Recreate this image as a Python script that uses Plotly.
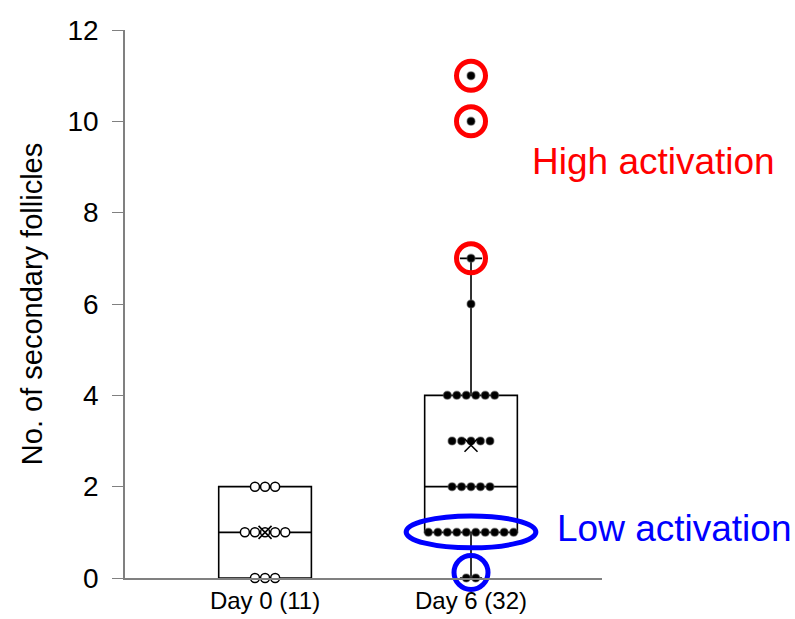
import numpy as np
import plotly.graph_objects as go
from collections import Counter

# ---- data ----
categories = ["Day 0 (11)", "Day 6 (32)"]
day0_values = [0, 0, 0, 1, 1, 1, 1, 1, 2, 2, 2]
day6_values = [0, 0,
               1, 1, 1, 1, 1, 1, 1, 1, 1, 1,
               2, 2, 2, 2, 2,
               3, 3, 3, 3, 3,
               4, 4, 4, 4, 4, 4,
               6, 7, 10, 11]
high_activation_values = [7, 10, 11]
low_activation_zero = [0]
low_activation_row = 1
y_ticks = [0, 2, 4, 6, 8, 10, 12]

positions = [0, 1]
XR = [-0.68, 1.636]


def swarm_x(center, values, step):
    cnt = Counter(values)
    seen = {}
    xs = []
    for v in values:
        k = cnt[v]
        i = seen.get(v, 0)
        seen[v] = i + 1
        xs.append(center + (i - (k - 1) / 2) * step)
    return xs


fig = go.Figure()
groups = [day0_values, day6_values]
for pos, vals in zip(positions, groups):
    fig.add_trace(go.Box(
        x=[pos] * len(vals), y=vals, width=0.45,
        boxpoints="outliers", marker=dict(opacity=0, size=1),
        line=dict(color="black", width=1.6), fillcolor="white",
        whiskerwidth=0.24, quartilemethod="exclusive",
        hoverinfo="skip", showlegend=False))

# day 0 points: hollow circles
fig.add_trace(go.Scatter(
    x=swarm_x(positions[0], day0_values, 0.049), y=day0_values, mode="markers",
    marker=dict(symbol="circle", size=9, color="white",
                line=dict(color="black", width=1.5)),
    showlegend=False, hoverinfo="skip", cliponaxis=False))

# day 6 points: filled black dots with soft edge
fig.add_trace(go.Scatter(
    x=swarm_x(positions[1], day6_values, 0.046), y=day6_values, mode="markers",
    marker=dict(symbol="circle", size=8, color="black",
                line=dict(color="rgba(90,90,90,0.45)", width=1.5)),
    showlegend=False, hoverinfo="skip", cliponaxis=False))

# means
fig.add_trace(go.Scatter(
    x=positions, y=[float(np.mean(g)) for g in groups], mode="markers",
    marker=dict(symbol="x-thin", size=13, color="black",
                line=dict(color="black", width=1.6)),
    showlegend=False, hoverinfo="skip", cliponaxis=False))

# red circles (high activation)
fig.add_trace(go.Scatter(
    x=[positions[1]] * len(high_activation_values), y=high_activation_values,
    mode="markers",
    marker=dict(symbol="circle-open", size=29, color="#ff0000",
                line=dict(color="#ff0000", width=5)),
    showlegend=False, hoverinfo="skip", cliponaxis=False))

# blue circle round the zero points
fig.add_trace(go.Scatter(
    x=[positions[1]] * len(low_activation_zero), y=[v + 0.12 for v in low_activation_zero],
    mode="markers",
    marker=dict(symbol="circle-open", size=34, color="#0000ff",
                line=dict(color="#0000ff", width=5)),
    showlegend=False, hoverinfo="skip", cliponaxis=False))

# blue ellipse round the row at 1
fig.add_shape(type="circle", xref="x", yref="y",
              x0=positions[1] - 0.315, x1=positions[1] + 0.315,
              y0=low_activation_row - 0.34, y1=low_activation_row + 0.36,
              line=dict(color="#0000ff", width=5), layer="above")

fig.add_annotation(text="High activation", xref="paper", yref="y",
                   x=(530 - 125) / 477, y=9.12, xanchor="left", yanchor="middle",
                   showarrow=False, font=dict(size=37, color="#ff0000"))
fig.add_annotation(text="Low activation", xref="paper", yref="y",
                   x=(555 - 125) / 477, y=1.08, xanchor="left", yanchor="middle",
                   showarrow=False, font=dict(size=37, color="#0000ff"))

fig.update_layout(
    width=795, height=619,
    margin=dict(l=125, r=193, t=30, b=41, autoexpand=False),
    plot_bgcolor="white", paper_bgcolor="white",
    font=dict(family="Liberation Sans, Arial, sans-serif", size=24, color="black"),
    showlegend=False,
    xaxis=dict(range=XR, tickvals=positions, ticktext=categories,
               showline=True, linecolor="#808080", linewidth=1.5,
               ticks="", showgrid=False, zeroline=False, automargin=False,
               tickfont=dict(size=24)),
    yaxis=dict(range=[0, 12], tickvals=y_ticks, showline=True,
               linecolor="#808080", linewidth=1.5, ticks="outside",
               ticklen=11, tickcolor="#808080", tickwidth=1.2,
               ticklabelstandoff=8,
               showgrid=False, zeroline=False, automargin=False,
               title=dict(text="No. of secondary follicles", font=dict(size=29),
                          standoff=16),
               tickfont=dict(size=28)),
)

fig.write_html("out.html", config={"displayModeBar": False},
               post_script="document.body.style.margin='0';document.body.style.overflow='hidden';")
